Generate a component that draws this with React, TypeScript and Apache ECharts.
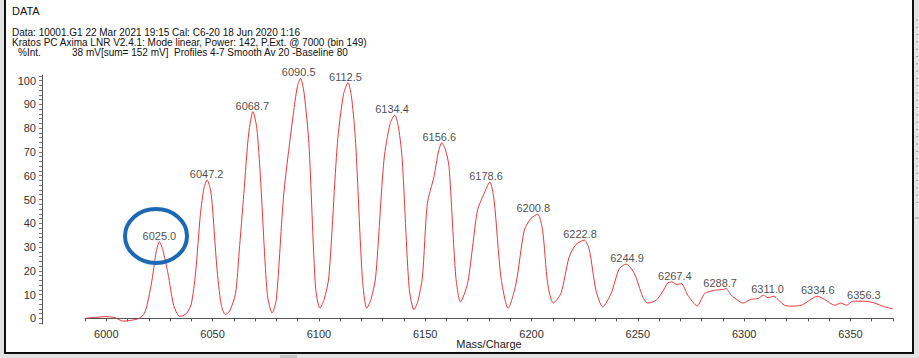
import React, { useEffect, useRef } from "react";
import * as echarts from "echarts";

// Spectrum: mass/charge and relative intensity (%)
const massValues = [
  5990, 5995, 6000, 6004, 6008, 6012, 6015, 6017.5, 6019, 6021.5, 6023.5, 6025, 6026.5, 6029, 6031.7, 6034.4,
  6036, 6038, 6040, 6042, 6044.3, 6046, 6047.4, 6048.8, 6049.8, 6052, 6054, 6056, 6058, 6060.8, 6062.5,
  6064.7, 6067, 6069, 6070.8, 6072.5, 6075.7, 6078, 6080, 6083.5, 6088.2, 6090, 6091.4, 6093, 6095.3,
  6098.4, 6100.5, 6102.5, 6104.7, 6108.7, 6111.5, 6113.7, 6115.5, 6117.3, 6120.4, 6122.5, 6124.5, 6126.7,
  6130.6, 6133.5, 6135.7, 6137.5, 6139.2, 6142.4, 6144.7, 6146.5, 6148.7, 6151, 6154.1, 6156.2, 6157.8,
  6159.5, 6161.2, 6164.4, 6166.6, 6169.9, 6172, 6174.6, 6177.7, 6180.4, 6182.4, 6185.6, 6189, 6192.7,
  6196.6, 6199.7, 6202.9, 6205.2, 6207.6, 6210.2, 6213.8, 6217.7, 6220.9, 6224.8, 6227.2, 6230.3, 6233.5,
  6237.4, 6241.3, 6244.5, 6248.4, 6252.3, 6254.7, 6258.6, 6261.5, 6264.1, 6266, 6268.5, 6270.4, 6273.5,
  6277.9, 6281.4, 6286.1, 6290, 6291.5, 6293.9, 6297, 6299.4, 6303.3, 6306.5, 6309.1, 6311.2, 6314,
  6315.9, 6319, 6322.2, 6326.9, 6330.8, 6334.4, 6337.9, 6342.6, 6345.4, 6348.1, 6351.2, 6356.7, 6361.4,
  6366.1, 6370,
];
const intensityValues = [
  0, 0.4, 0.7, 0.3, -1.2, -0.8, -0.2, 1.5, 4.8, 16, 28, 32.2, 29, 19, 5.5, 0.9,
  1.1, 2.3, 6, 19, 44, 55, 58.2, 55, 48.3, 21.6, 6, 1.6, 3, 10.4, 28,
  52.5, 78, 87, 80, 59.5, 10.4, 2.2, 8, 52.5, 87.6, 98, 101, 95, 73.6,
  13.2, 4.2, 8, 17.4, 73.6, 94, 99.2, 92, 73.6, 17.4, 4.2, 8, 17.4,
  66.6, 82, 85.5, 80, 66.6, 13.2, 3.6, 7, 17.4, 48.3, 59.5, 70, 73.9,
  71, 63.8, 17.4, 6.9, 14.6, 28, 45.5, 52.5, 57.4, 49.7, 17.4, 4.2, 14.6,
  37.1, 42, 43.8, 37.1, 14.6, 6.4, 10.4, 25.8, 31, 32.9, 28.7, 11.8, 4.8,
  10.4, 20.9, 22.8, 18.8, 9, 6.4, 7.6, 11, 14.9, 15.3, 14.2, 14.6, 9.7,
  5.2, 10.4, 11.8, 12.1, 12.5, 9.7, 7.6, 6.4, 8, 8.3, 9.7, 8.7, 9.3,
  7.9, 5.5, 5.1, 5.5, 7.6, 9.3, 7.9, 5.5, 6.4, 5.5, 7.2, 7.2, 6.4,
  4.8, 4,
];

// Labelled peaks
const peakMasses = [
  6025.0, 6047.2, 6068.7, 6090.5, 6112.5, 6134.4, 6156.6, 6178.6, 6200.8, 6222.8, 6244.9, 6267.4, 6288.7,
  6311.0, 6334.6, 6356.3,
];
const peakHeights = [32.2, 58.2, 87, 101, 99.2, 85.5, 73.9, 57.4, 43.8, 32.9, 22.8, 15.3, 12.5, 9.7, 9.3, 7.2];

const yLabelValues = [0, 10, 20, 30, 40, 50, 60, 70, 80, 90, 100];
const yTickValues = [
  -2, 0, 2, 4, 6, 8, 10, 12, 14, 16, 18, 20, 22, 24, 26, 28, 30, 32, 34, 36, 38, 40, 42, 44, 46, 48, 50, 52,
  54, 56, 58, 60, 62, 64, 66, 68, 70, 72, 74, 76, 78, 80, 82, 84, 86, 88, 90, 92, 94, 96, 98, 100, 102,
];

const headerLines = [
  "Data: 10001.G1 22 Mar 2021 19:15 Cal: C6-20 18 Jun 2020 1:16",
  "Kratos PC Axima LNR V2.4.1: Mode linear, Power: 142, P.Ext. @ 7000 (bin 149)",
];

const FONT = "Liberation Sans, Arial, sans-serif";

export default function App() {
  const ref = useRef<HTMLDivElement>(null);

  useEffect(() => {
    if (!ref.current) return;
    const chart = echarts.init(ref.current, undefined, { renderer: "svg" });

    const rulerMarks: any[] = [];
    for (let i = 0; i < 26; i++) {
      rulerMarks.push({
        type: "line",
        silent: true,
        z: -5,
        shape: { x1: 916, y1: 20 + i * 7.3, x2: 918, y2: 20 + i * 7.3 },
        style: { stroke: "#9a9a9a", lineWidth: 1 },
      });
    }

    chart.setOption({
      animation: false,
      backgroundColor: "#ffffff",
      textStyle: { fontFamily: FONT },
      grid: { left: 85, right: 26, top: 75, bottom: 34, containLabel: false, outerBoundsMode: "none" },
      xAxis: {
        type: "value",
        min: 5990,
        max: 6370,
        interval: 10,
        name: "Mass/Charge",
        nameLocation: "middle",
        nameGap: 20,
        nameMoveOverlap: false,
        nameTextStyle: { color: "#222", fontSize: 11, fontFamily: FONT, verticalAlign: "middle" },
        axisLine: { show: true, lineStyle: { color: "#555", width: 1 } },
        axisTick: { show: true, length: 3, lineStyle: { color: "#555" } },
        axisLabel: {
          color: "#333",
          fontSize: 11,
          fontFamily: FONT,
          margin: 4,
          formatter: (v: number) => (Math.round(v) % 50 === 0 ? String(Math.round(v)) : ""),
        },
        splitLine: { show: false },
      },
      yAxis: {
        type: "value",
        min: -2.4,
        max: 102.4,
        offset: 43,
        axisLine: { show: true, lineStyle: { color: "#555", width: 1 } },
        axisTick: { show: true, length: 3, customValues: yTickValues, lineStyle: { color: "#777" } },
        axisLabel: { color: "#333", fontSize: 11, fontFamily: FONT, margin: 6, customValues: yLabelValues },
        splitLine: { show: false },
      },
      series: [
        {
          type: "line",
          data: massValues.map((m, i) => [m, intensityValues[i]]),
          showSymbol: false,
          smooth: 0.25,
          lineStyle: { color: "#e8383c", width: 1 },
          z: 3,
        },
        {
          type: "scatter",
          data: peakMasses.map((m, i) => ({ value: [m, peakHeights[i]], name: m.toFixed(1) })),
          symbolSize: 1,
          itemStyle: { color: "rgba(0,0,0,0)" },
          label: {
            show: true,
            position: "top",
            distance: 0,
            color: "#1a1a1a",
            fontSize: 11,
            fontFamily: FONT,
            formatter: (p: any) => p.name,
          },
          z: 4,
        },
      ],
      graphic: [
        { type: "rect", silent: true, z: -20, shape: { x: 0, y: 0, width: 919, height: 358 }, style: { fill: "#e3e3e3" } },
        {
          type: "rect",
          silent: true,
          z: -19,
          shape: { x: 5, y: -3, width: 908, height: 356 },
          style: { fill: "#ffffff", stroke: "#111111", lineWidth: 2 },
        },
        { type: "rect", silent: true, z: -18, shape: { x: 280, y: 355, width: 17, height: 3 }, style: { fill: "#c4c4c4" } },
        {
          type: "line",
          silent: true,
          z: -5,
          shape: { x1: 915, y1: 218, x2: 919, y2: 218 },
          style: { stroke: "#9a9a9a", lineWidth: 1 },
        },
        ...rulerMarks,
        {
          type: "text",
          silent: true,
          z: 10,
          x: 12,
          y: 11,
          style: { text: "DATA", fill: "#111", font: `11px ${FONT}`, verticalAlign: "middle" },
        },
        {
          type: "text",
          silent: true,
          z: 10,
          x: 12,
          y: 32,
          style: { text: headerLines[0], fill: "#111", font: `10px ${FONT}`, verticalAlign: "middle" },
        },
        {
          type: "text",
          silent: true,
          z: 10,
          x: 12,
          y: 42,
          style: { text: headerLines[1], fill: "#111", font: `10px ${FONT}`, verticalAlign: "middle" },
        },
        {
          type: "text",
          silent: true,
          z: 10,
          x: 18,
          y: 52,
          style: { text: "%Int.", fill: "#111", font: `10px ${FONT}`, verticalAlign: "middle" },
        },
        {
          type: "text",
          silent: true,
          z: 10,
          x: 72,
          y: 52,
          style: {
            text: "38 mV[sum= 152 mV]  Profiles 4-7 Smooth Av 20 -Baseline 80",
            fill: "#111",
            font: `10px ${FONT}`,
            verticalAlign: "middle",
          },
        },
        {
          type: "ellipse",
          silent: true,
          z: 100,
          shape: { cx: 156, cy: 236, rx: 31, ry: 27 },
          style: { fill: "none", stroke: "#1b68b3", lineWidth: 4 },
        },
      ],
    });

    return () => chart.dispose();
  }, []);

  return <div ref={ref} style={{ position: "fixed", left: 0, top: 0, width: 919, height: 358 }} />;
}
